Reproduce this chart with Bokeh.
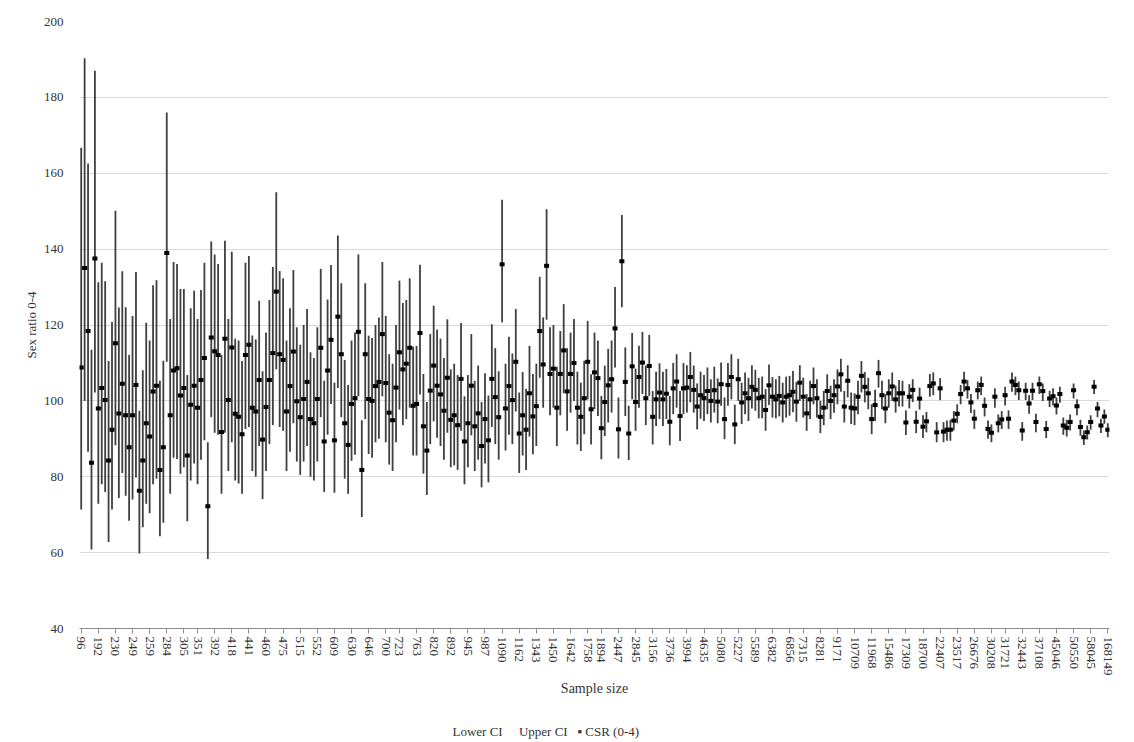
import numpy as np
from bokeh.plotting import figure
from bokeh.models import FixedTicker, Range1d, Title
from bokeh.embed import file_html
from bokeh.resources import INLINE

# ---- data ----
csr = [108.8, 135.0, 118.4, 83.7, 137.5, 98.0, 103.4, 100.2, 84.3, 92.4,
       115.2, 96.7, 104.5, 96.2, 87.8, 96.2, 104.2, 76.3, 84.3, 94.1,
       90.6, 102.5, 104.0, 81.8, 87.8, 139.0, 96.2, 108.0, 108.6, 101.4,
       103.4, 85.6, 99.0, 104.0, 98.2, 105.5, 111.3, 72.2, 116.7, 113.1,
       112.1, 91.8, 116.4, 100.2, 114.1, 96.6, 95.8, 91.2, 112.1, 114.8,
       98.2, 97.2, 105.5, 89.8, 98.4, 105.5, 112.6, 128.8, 112.3, 110.8,
       97.2, 103.9, 113.0, 99.9, 95.7, 100.5, 105.0, 95.2, 94.1, 100.5,
       114.0, 89.3, 108.0, 116.1, 89.6, 122.2, 112.3, 94.1, 88.4, 99.2,
       100.7, 118.2, 81.8, 112.3, 100.5, 100.0, 103.9, 105.0, 117.6, 104.7,
       96.9, 94.9, 103.5, 112.8, 108.3, 109.8, 114.0, 98.7, 99.2, 117.9,
       93.3, 86.9, 102.7, 109.3, 104.0, 101.7, 97.4, 106.1, 95.0, 96.2,
       93.6, 105.8, 89.3, 94.1, 104.0, 93.3, 96.7, 88.1, 95.2, 89.6,
       105.8, 101.0, 95.7, 136.0, 98.0, 103.9, 100.2, 110.3, 91.4, 96.2,
       92.4, 102.0, 95.9, 98.6, 118.4, 109.6, 135.6, 107.1, 108.5, 98.2,
       107.1, 113.3, 102.5, 107.1, 110.0, 98.2, 95.8, 100.7, 110.3, 97.8,
       107.5, 106.0, 92.8, 99.7, 104.1, 105.7, 119.1, 92.5, 136.8, 105.0,
       91.4, 109.1, 99.7, 106.3, 110.1, 100.7, 109.2, 95.8, 100.4, 102.2,
       100.4, 101.9, 94.5, 103.3, 105.1, 96.0, 103.3, 103.5, 106.3, 102.9,
       98.5, 101.5, 100.7, 102.6, 100.0, 102.8, 99.8, 104.4, 95.2, 104.2,
       106.3, 93.8, 105.7, 99.6, 102.0, 100.7, 103.7, 102.9, 100.7, 101.1,
       97.6, 104.1, 101.1, 100.4, 101.3, 99.6, 101.1, 101.5, 102.4, 99.8,
       104.8, 101.1, 96.7, 100.4, 103.9, 100.7, 95.8, 98.2, 102.6, 100.0,
       101.5, 103.8, 107.0, 98.5, 105.3, 98.2, 98.0, 101.1, 106.6, 103.7,
       102.0, 95.2, 98.9, 107.3, 101.5, 98.0, 102.0, 103.8, 100.4, 102.0,
       102.0, 94.3, 101.1, 102.9, 94.5, 100.6, 93.2, 94.6, 103.9, 104.6,
       91.7, 103.3, 91.9, 92.4, 92.4, 94.8, 96.6, 101.8, 105.1, 103.3,
       99.6, 95.3, 102.8, 104.2, 98.7, 92.6, 91.6, 101.1, 94.1, 95.1,
       101.5, 95.3, 105.1, 104.2, 102.8, 92.2, 102.7, 99.3, 102.7, 94.4,
       104.4, 102.6, 92.6, 100.6, 101.2, 98.8, 101.8, 93.5, 92.9, 94.4,
       102.8, 98.6, 93.1, 90.4, 91.7, 94.4, 103.7, 98.0, 93.5, 95.9,
       92.4]

lower_ci = [71.4, 100.0, 86.6, 60.8, 102.2, 72.9, 78.0, 76.0, 62.8, 71.4,
            88.3, 74.4, 81.0, 75.0, 68.4, 74.0, 79.8, 59.8, 66.7, 72.9,
            70.4, 78.0, 79.5, 64.3, 67.9, 110.3, 75.5, 85.0, 84.7, 80.8,
            82.5, 68.3, 79.0, 83.5, 78.0, 84.5, 89.6, 58.3, 95.7, 91.6,
            91.1, 75.5, 91.6, 81.5, 89.1, 79.0, 78.2, 75.5, 92.6, 93.1,
            81.5, 80.0, 88.1, 74.1, 81.5, 88.6, 93.6, 108.3, 93.1, 92.1,
            81.5, 86.6, 94.1, 84.0, 80.5, 84.0, 88.1, 80.0, 79.0, 84.0,
            95.7, 76.0, 91.1, 99.2, 75.8, 103.4, 95.7, 79.5, 75.5, 84.2,
            85.8, 101.2, 69.4, 95.2, 86.0, 85.0, 89.1, 90.0, 101.2, 89.1,
            83.2, 81.5, 89.1, 97.7, 93.6, 95.2, 98.2, 85.6, 85.6, 101.7,
            80.8, 75.2, 88.6, 94.6, 90.3, 88.1, 84.5, 91.6, 82.5, 83.0,
            81.8, 92.1, 78.0, 82.5, 90.9, 81.5, 84.5, 77.2, 83.5, 78.5,
            93.1, 88.6, 84.5, 120.7, 86.9, 91.1, 88.6, 97.2, 81.0, 85.6,
            81.8, 90.6, 85.9, 88.1, 106.1, 98.2, 121.4, 96.2, 98.2, 88.1,
            96.2, 102.0, 92.1, 96.9, 100.0, 88.5, 86.8, 91.2, 100.4, 88.5,
            97.8, 96.0, 84.6, 90.7, 94.3, 96.9, 108.8, 84.8, 124.7, 96.0,
            84.4, 100.4, 92.1, 98.2, 101.8, 93.6, 101.3, 88.5, 93.4, 95.2,
            93.4, 95.2, 88.3, 96.5, 98.2, 89.4, 96.5, 96.9, 99.6, 96.9,
            92.5, 95.3, 94.7, 96.5, 94.3, 96.9, 94.1, 98.7, 89.9, 98.7,
            100.4, 88.6, 100.0, 93.9, 96.5, 94.7, 98.0, 97.4, 95.4, 95.4,
            92.1, 98.9, 95.6, 95.4, 95.9, 94.3, 95.6, 96.1, 97.0, 94.5,
            100.0, 95.6, 92.1, 95.2, 99.1, 95.6, 91.5, 93.6, 97.8, 95.2,
            96.9, 99.1, 102.4, 94.3, 100.9, 93.9, 93.6, 96.5, 102.2, 99.6,
            97.8, 91.2, 94.7, 103.5, 97.8, 94.1, 98.2, 100.0, 96.9, 98.5,
            98.5, 91.0, 98.0, 99.7, 91.5, 97.7, 90.2, 91.7, 101.1, 101.5,
            89.1, 100.2, 89.1, 89.5, 89.5, 92.2, 94.1, 99.1, 102.4, 100.6,
            96.8, 92.6, 100.4, 101.5, 95.9, 90.0, 89.1, 98.2, 91.7, 92.6,
            98.8, 92.6, 102.4, 101.5, 100.2, 89.5, 100.2, 96.6, 100.2, 91.7,
            101.8, 100.0, 90.2, 98.4, 98.8, 96.4, 99.5, 91.1, 90.6, 92.2,
            100.6, 96.2, 90.8, 88.4, 89.8, 92.4, 101.8, 95.7, 91.5, 94.0,
            90.4]

upper_ci = [166.7, 190.3, 162.6, 113.5, 187.0, 131.3, 136.4, 131.5, 110.5, 120.8,
            150.1, 124.6, 134.2, 124.7, 112.1, 122.4, 134.0, 97.4, 108.1, 120.6,
            115.9, 130.5, 131.8, 105.3, 110.6, 176.0, 121.6, 136.6, 136.1, 129.5,
            129.5, 106.8, 124.4, 129.0, 121.6, 129.2, 136.4, 89.1, 142.0, 138.6,
            136.1, 112.1, 142.2, 121.6, 139.3, 116.4, 115.9, 110.5, 136.4, 138.2,
            117.2, 116.2, 126.4, 107.8, 118.0, 126.6, 135.3, 155.0, 134.2, 132.3,
            115.9, 124.4, 134.5, 119.4, 114.8, 120.0, 124.2, 112.8, 111.3, 119.4,
            134.8, 105.3, 126.7, 135.8, 104.8, 143.6, 131.0, 110.8, 104.2, 115.9,
            118.0, 138.6, 94.9, 131.0, 117.2, 116.6, 120.0, 122.0, 136.6, 122.4,
            112.3, 109.8, 120.0, 131.7, 125.8, 126.6, 132.3, 114.3, 114.5, 135.9,
            107.1, 99.7, 117.6, 125.1, 118.8, 116.4, 111.3, 121.5, 108.3, 109.8,
            106.8, 120.5, 101.2, 106.8, 117.6, 105.3, 109.3, 99.7, 107.3, 101.4,
            120.2, 113.9, 107.8, 153.0, 109.8, 116.9, 112.5, 124.2, 102.2, 107.6,
            103.2, 114.5, 107.1, 109.8, 132.7, 122.0, 150.5, 119.4, 120.0, 109.0,
            118.4, 125.5, 113.9, 118.0, 121.6, 107.7, 104.8, 110.6, 121.1, 107.0,
            118.0, 115.9, 101.3, 109.3, 113.7, 115.9, 130.0, 100.9, 149.0, 114.1,
            98.7, 117.9, 108.5, 114.5, 118.2, 109.3, 117.4, 102.6, 107.7, 109.9,
            107.7, 108.4, 101.3, 110.0, 112.3, 102.6, 110.0, 109.4, 112.9, 109.3,
            104.6, 107.7, 106.8, 108.8, 105.7, 109.0, 105.9, 110.1, 100.9, 110.0,
            112.3, 99.0, 111.1, 104.8, 107.5, 106.1, 109.4, 108.2, 106.1, 106.4,
            103.1, 109.6, 106.3, 105.7, 106.6, 104.8, 106.4, 106.6, 107.9, 105.0,
            109.4, 106.1, 101.8, 105.3, 108.8, 105.7, 100.0, 102.6, 107.0, 104.0,
            105.7, 108.3, 111.1, 102.6, 109.4, 102.2, 102.0, 105.3, 110.5, 107.6,
            106.1, 99.1, 102.9, 110.8, 105.3, 101.8, 105.7, 107.5, 104.0, 105.5,
            105.3, 97.5, 104.4, 105.7, 97.4, 103.5, 96.2, 97.1, 107.1, 107.5,
            94.4, 106.0, 94.4, 94.8, 95.0, 97.3, 99.1, 104.2, 107.7, 105.5,
            101.8, 97.7, 105.1, 106.4, 100.9, 94.8, 93.8, 103.3, 96.4, 97.3,
            103.7, 97.5, 107.5, 106.4, 105.1, 94.4, 104.8, 101.5, 104.8, 96.6,
            106.4, 104.6, 94.7, 102.7, 103.3, 100.9, 103.7, 95.6, 95.0, 96.4,
            104.6, 100.4, 95.0, 92.2, 93.5, 96.2, 105.5, 99.7, 95.3, 97.7,
            94.1]

sample_size_labels = ["96", "192", "230", "249", "259", "284", "305", "351", "392", "418",
                      "441", "460", "475", "515", "552", "609", "630", "646", "700", "723",
                      "763", "820", "892", "945", "987", "1090", "1162", "1343", "1450", "1642",
                      "1758", "1894", "2447", "2845", "3156", "3736", "3994", "4635", "5080", "5227",
                      "5589", "6382", "6856", "7315", "8281", "9171", "10709", "11968", "15486", "17309",
                      "18700", "22407", "23517", "26676", "30208", "31721", "32443", "37108", "45046", "50550",
                      "58045", "168149"]

y_ticks = [40, 60, 80, 100, 120, 140, 160, 180, 200]
legend_names = ["Lower CI", "Upper CI", "CSR (0-4)"]

# ---- figure ----
n = len(csr)
x = np.arange(n)
tick_pos = [int(v) for v in np.round(np.linspace(0, n - 1, len(sample_size_labels)))]

FONT = "Liberation Serif"
TXT = "#333333"

p = figure(width=1118, height=742, output_backend="svg", toolbar_location=None,
           x_range=Range1d(-0.5, n - 0.5), y_range=Range1d(40, 200),
           min_border_left=79, min_border_right=9, min_border_top=21,
           min_border_bottom=114, background_fill_color="white",
           border_fill_color="white")
p.outline_line_color = None

# CI high-low lines and CSR markers
p.segment(x, lower_ci, x, upper_ci, line_color="#3f3f3f", line_width=1.8)
p.rect(x, csr, width=5, height=4, width_units="screen", height_units="screen",
       fill_color="black", line_color=None)

# grid
p.xgrid.visible = False
p.ygrid.grid_line_color = "#d9d9d9"
p.ygrid.grid_line_width = 1

# y axis
p.yaxis.ticker = FixedTicker(ticks=y_ticks)
p.yaxis.axis_line_color = None
p.yaxis.major_tick_line_color = None
p.yaxis.minor_tick_line_color = None
p.yaxis.major_label_standoff = 10
p.yaxis.major_label_text_font = FONT
p.yaxis.major_label_text_font_size = "13px"
p.yaxis.major_label_text_color = TXT
p.yaxis.axis_label = "Sex ratio 0-4"
p.yaxis.axis_label_text_font = FONT
p.yaxis.axis_label_text_font_size = "13px"
p.yaxis.axis_label_text_font_style = "normal"
p.yaxis.axis_label_text_color = TXT
p.yaxis.axis_label_standoff = 2

# x axis
p.xaxis.ticker = FixedTicker(ticks=tick_pos)
p.xaxis.major_label_overrides = {pos: lab for pos, lab in zip(tick_pos, sample_size_labels)}
p.xaxis.major_label_orientation = "vertical"
p.xaxis.axis_line_color = "#8c8c8c"
p.xaxis.major_tick_line_color = "#8c8c8c"
p.xaxis.major_tick_out = 5
p.xaxis.major_tick_in = 0
p.xaxis.minor_tick_line_color = None
p.xaxis.major_label_standoff = 3
p.xaxis.major_label_text_font = FONT
p.xaxis.major_label_text_font_size = "13px"
p.xaxis.major_label_text_color = TXT
p.xaxis.axis_label = "Sample size"
p.xaxis.axis_label_text_font = FONT
p.xaxis.axis_label_text_font_size = "14px"
p.xaxis.axis_label_text_font_style = "normal"
p.xaxis.axis_label_text_color = TXT
p.xaxis.axis_label_standoff = 2

# empty spacer between the axis title and the legend line
p.add_layout(Title(text="\u00a0", standoff=9, text_font_size="10px"), "below")

# legend line (CI series have no visible symbol in the original)
nb = "\u00a0"
legend_text = (legend_names[0] + nb * 5 + legend_names[1] + nb * 3 + "\u25aa" + nb + legend_names[2])
p.add_layout(Title(text=legend_text, align="left", offset=373, standoff=2,
                   text_font=FONT, text_font_size="13px", text_font_style="normal",
                   text_color=TXT), "below")

open("out.html", "w").write(file_html(p, INLINE))
